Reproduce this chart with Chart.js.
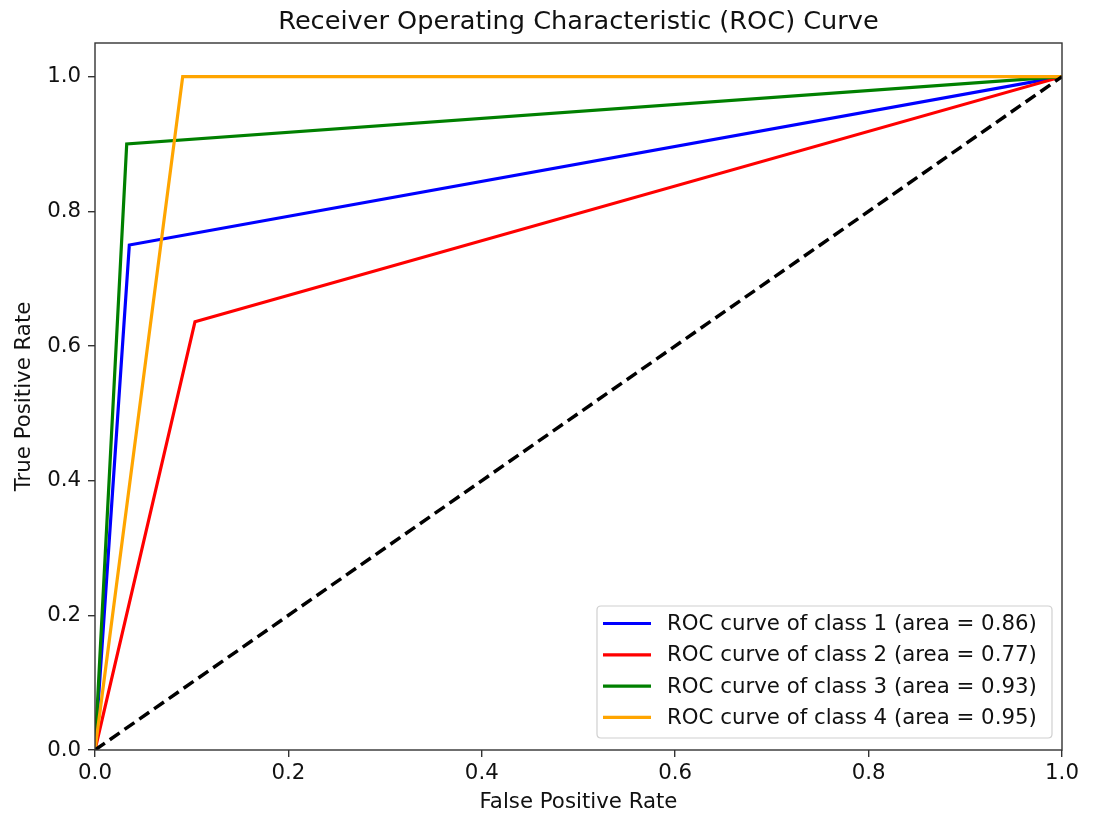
<!DOCTYPE html>
<html>
<head>
<meta charset="utf-8">
<script src="https://cdn.jsdelivr.net/npm/chart.js@4/dist/chart.umd.min.js"></script>
<style>
html,body{margin:0;padding:0;background:#fff;}
#wrap{width:1094px;height:813px;position:relative;}
</style>
</head>
<body>
<div id="wrap"><canvas id="c" width="1094" height="813"></canvas></div>
<script>
// ---- data ----
const chartTitle = 'Receiver Operating Characteristic (ROC) Curve';
const xAxisTitle = 'False Positive Rate';
const yAxisTitle = 'True Positive Rate';
const classLabels = [
  'ROC curve of class 1 (area = 0.86)',
  'ROC curve of class 2 (area = 0.77)',
  'ROC curve of class 3 (area = 0.93)',
  'ROC curve of class 4 (area = 0.95)'
];
const fprClass1 = [0, 0.0355, 1];
const tprClass1 = [0, 0.75, 1];
const fprClass2 = [0, 0.1034, 1];
const tprClass2 = [0, 0.636, 1];
const fprClass3 = [0, 0.0328, 1];
const tprClass3 = [0, 0.9, 1];
const fprClass4 = [0, 0.0907, 1];
const tprClass4 = [0, 1.0, 1];
const chanceX = [0, 1];
const chanceY = [0, 1];
const xTicks = [0, 0.2, 0.4, 0.6, 0.8, 1.0];
const yTicks = [0, 0.2, 0.4, 0.6, 0.8, 1.0];
const classColors = ['#0000ff', '#ff0000', '#008000', '#ffa500'];

function pts(xs, ys){ return xs.map((x,i)=>({x:x, y:ys[i]})); }

const FONT = 'DejaVu Sans';
const BASE = 21.3;

const frameAndTitle = {
  id: 'frameAndTitle',
  afterDatasetsDraw(chart){
    const {ctx, chartArea:a} = chart;
    ctx.save();
    ctx.strokeStyle = '#333';
    ctx.lineWidth = 1.4;
    ctx.strokeRect(a.left, a.top, a.right - a.left, a.bottom - a.top);
    ctx.restore();
  },
  afterDraw(chart){
    const {ctx, chartArea:a} = chart;
    ctx.save();
    // title
    ctx.fillStyle = '#111';
    ctx.font = '25.6px "' + FONT + '"';
    ctx.textAlign = 'center';
    ctx.textBaseline = 'middle';
    ctx.fillText(chartTitle, (a.left + a.right)/2, 22);
    // legend
    const bx = 597, by = 606, bw = 455, bh = 132, r = 4;
    ctx.fillStyle = 'rgba(255,255,255,0.8)';
    ctx.strokeStyle = '#d0d0d0';
    ctx.lineWidth = 1.2;
    ctx.beginPath();
    ctx.moveTo(bx+r, by);
    ctx.lineTo(bx+bw-r, by); ctx.quadraticCurveTo(bx+bw, by, bx+bw, by+r);
    ctx.lineTo(bx+bw, by+bh-r); ctx.quadraticCurveTo(bx+bw, by+bh, bx+bw-r, by+bh);
    ctx.lineTo(bx+r, by+bh); ctx.quadraticCurveTo(bx, by+bh, bx, by+bh-r);
    ctx.lineTo(bx, by+r); ctx.quadraticCurveTo(bx, by, bx+r, by);
    ctx.closePath();
    ctx.fill(); ctx.stroke();
    ctx.font = BASE + 'px "' + FONT + '"';
    ctx.textAlign = 'left';
    ctx.textBaseline = 'middle';
    const ds = chart.data.datasets;
    for (let i = 0; i < classLabels.length; i++) {
      const y = 623.5 + i * 31.3;
      ctx.strokeStyle = ds[i].borderColor;
      ctx.lineWidth = 3.2;
      ctx.beginPath(); ctx.moveTo(603, y); ctx.lineTo(651, y); ctx.stroke();
      ctx.fillStyle = '#111';
      ctx.fillText(ds[i].label, 667, y + 1);
    }
    ctx.restore();
  }
};

const datasets = [
  {label: classLabels[0], data: pts(fprClass1, tprClass1), borderColor: classColors[0], order: 4},
  {label: classLabels[1], data: pts(fprClass2, tprClass2), borderColor: classColors[1], order: 3},
  {label: classLabels[2], data: pts(fprClass3, tprClass3), borderColor: classColors[2], order: 2},
  {label: classLabels[3], data: pts(fprClass4, tprClass4), borderColor: classColors[3], order: 1},
  {label: 'chance', data: pts(chanceX, chanceY), borderColor: '#000', borderDash: [12, 6], borderWidth: 3.5, order: 0}
].map(d => Object.assign({showLine: true, pointRadius: 0, borderWidth: 3.2, fill: false, tension: 0, backgroundColor: d.borderColor}, d));

new Chart(document.getElementById('c'), {
  type: 'scatter',
  data: {datasets},
  plugins: [frameAndTitle],
  options: {
    responsive: false,
    animation: false,
    events: [],
    layout: {padding: {top: 43, right: 32, left: 0, bottom: 0}},
    plugins: {legend: {display: false}, title: {display: false}, tooltip: {enabled: false}},
    scales: {
      x: {
        type: 'linear', min: 0, max: 1,
        afterBuildTicks: s => { s.ticks = xTicks.map(v => ({value: v})); },
        afterFit: s => { s.height = 63; },
        ticks: {callback: v => Number(v).toFixed(1), color: '#111', font: {family: FONT, size: BASE}, padding: 4, maxRotation: 0},
        grid: {drawOnChartArea: false, drawTicks: true, tickLength: 7, color: '#333', lineWidth: 1.4},
        border: {display: false},
        title: {display: true, text: xAxisTitle, color: '#111', font: {family: FONT, size: BASE}, padding: {top: 0, bottom: -2}}
      },
      y: {
        type: 'linear', min: 0, max: 1.05,
        afterBuildTicks: s => { s.ticks = yTicks.map(v => ({value: v})); },
        afterFit: s => { s.width = 95; },
        ticks: {callback: v => Number(v).toFixed(1), color: '#111', font: {family: FONT, size: BASE}, padding: 7},
        grid: {drawOnChartArea: false, drawTicks: true, tickLength: 7, color: '#333', lineWidth: 1.4},
        border: {display: false},
        title: {display: true, text: yAxisTitle, color: '#111', font: {family: FONT, size: BASE}, padding: {top: 12, bottom: 0}}
      }
    }
  }
});
</script>
</body>
</html>
